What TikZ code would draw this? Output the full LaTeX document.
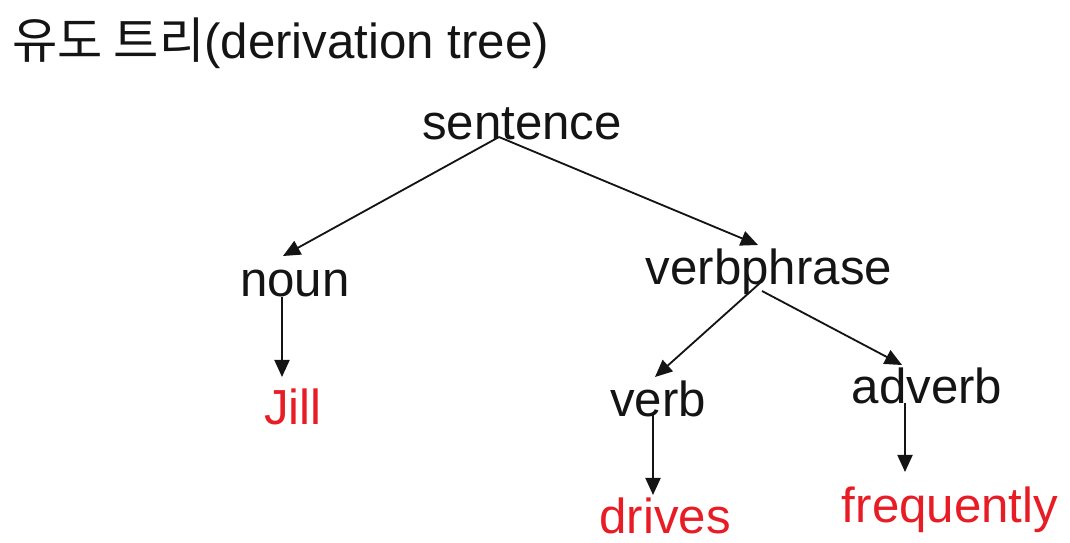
\documentclass[tikz,border=0pt]{standalone}
\usepackage{fontspec}
\setmainfont{Liberation Sans}
\newfontfamily\krfont{Noto Sans CJK KR}
\usetikzlibrary{arrows.meta}
\definecolor{leafred}{RGB}{232,28,36}
\definecolor{ink}{RGB}{20,20,20}

\begin{document}
\begin{tikzpicture}[x=0.025cm, y=-0.025cm, font=\fontsize{35}{42}\selectfont,
  >={Triangle[length=0.43cm, width=0.38cm]},
  word/.style={anchor=base, inner sep=0pt, text=ink},
  leaf/.style={word, text=leafred},
  arr/.style={->, draw=ink, line width=1.3pt}]
  \useasboundingbox (0,0) rectangle (1070,542);
  % title
  \node[word, anchor=base west] (title) at (12,58) {{\krfont 유도 트리}(derivation tree)};
  % tree
  \node[word] (sentence)   at (522,139) {sentence};
  \node[word] (noun)       at (295,296) {noun};
  \node[word] (verbphrase) at (769,284) {verbphrase};
  \node[leaf] (jill)       at (293,424) {Jill};
  \node[word] (verb)       at (658,416) {verb};
  \node[word] (adverb)     at (927,403) {adverb};
  \node[leaf] (drives)     at (665,533) {drives};
  \node[leaf] (freq)       at (950,522) {frequently};
  \draw[arr] ([shift={(-23,-2)}]sentence.base) -- ([shift={(-12,-40)}]noun.base);
  \draw[arr] ([shift={(-23,-2)}]sentence.base) -- ([shift={(-11,-39)}]verbphrase.base);
  \draw[arr] ([shift={(-13,1)}]noun.base) -- ([shift={(-11,-47)}]jill.base);
  \draw[arr] ([shift={(-9,-1)}]verbphrase.base) -- ([shift={(-3,-39)}]verb.base);
  \draw[arr] ([shift={(-7,7)}]verbphrase.base) -- ([shift={(-25,-38)}]adverb.base);
  \draw[arr] ([shift={(-5,-2)}]verb.base) -- ([shift={(-12,-38)}]drives.base);
  \draw[arr] ([shift={(-22,0)}]adverb.base) -- ([shift={(-45,-50)}]freq.base);
\end{tikzpicture}
\end{document}
